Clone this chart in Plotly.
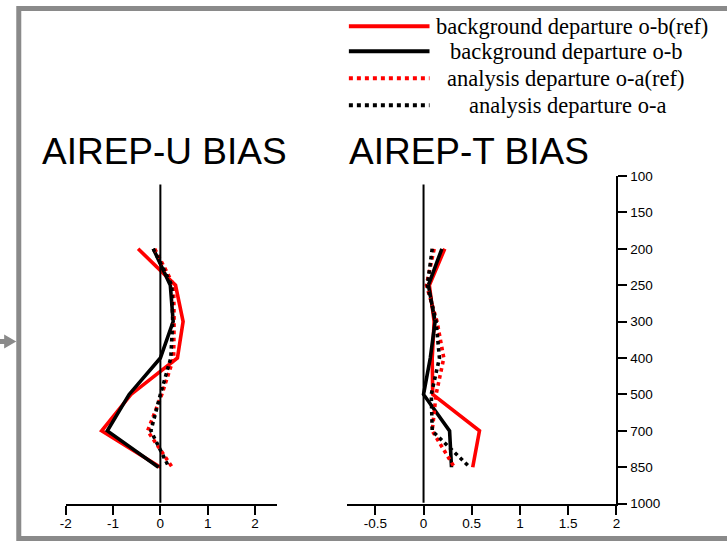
import plotly.graph_objects as go

W, H = 727, 549

# Pressure levels on the shared vertical axis (hPa), top to bottom
levels = ["100", "150", "200", "250", "300", "400", "500", "700", "850", "1000"]
data_levels = ["200", "250", "300", "400", "500", "700", "850"]

# AIREP-U bias (m/s)
u_ob_ref = [-0.47, 0.32, 0.48, 0.36, -0.62, -1.24, 0.0]
u_ob = [-0.15, 0.21, 0.27, 0.0, -0.66, -1.12, -0.04]
u_oa_ref = [-0.12, 0.28, 0.29, 0.28, 0.03, -0.27, 0.25]
u_oa = [-0.15, 0.24, 0.26, 0.22, 0.0, -0.2, 0.18]

# AIREP-T bias (K)
t_ob_ref = [0.22, 0.06, 0.11, 0.09, 0.095, 0.58, 0.51]
t_ob = [0.19, 0.05, 0.12, 0.07, 0.0, 0.27, 0.29]
t_oa_ref = [0.11, 0.03, 0.14, 0.21, 0.13, 0.09, 0.32]
t_oa = [0.09, 0.04, 0.13, 0.165, 0.08, 0.09, 0.48]

u_ticks = [-2, -1, 0, 1, 2]
t_ticks = [-0.5, 0, 0.5, 1, 1.5, 2]
t_ticktext = ["-0.5", "0", "0.5", "1", "1.5", "2"]

series_names = [
    "background departure o-b(ref)",
    "background departure o-b",
    "analysis departure o-a(ref)",
    "analysis departure o-a",
]
series_colors = ["#ff0000", "#000000", "#ff0000", "#000000"]
series_dash = ["solid", "solid", "dot", "dot"]

# page layout positions are given in window pixels; the page is shown
# inside an 8px body margin and scaled to the window, so map back here
PAD = 8
SX = W / (W + 2 * PAD)
SY = H / (H + 2 * PAD)


def fx(x):
    return x / SX - PAD


def fy(y):
    return y / SY - PAD


def px(x):
    return fx(x) / W


def py(y):
    return 1 - fy(y) / H


fig = go.Figure()

u_series = [u_ob_ref, u_ob, u_oa_ref, u_oa]
t_series = [t_ob_ref, t_ob, t_oa_ref, t_oa]
for vals, name, col, dash in zip(u_series, series_names, series_colors, series_dash):
    fig.add_trace(go.Scatter(x=vals, y=data_levels, mode="lines", name=name,
                             line=dict(color=col, width=3.6, dash=dash),
                             xaxis="x", yaxis="y", showlegend=False))
for vals, name, col, dash in zip(t_series, series_names, series_colors, series_dash):
    fig.add_trace(go.Scatter(x=vals, y=data_levels, mode="lines", name=name,
                             line=dict(color=col, width=3.6, dash=dash),
                             xaxis="x2", yaxis="y", showlegend=False))

tickfont = dict(family="Liberation Sans, Arial", size=13.5, color="#000")
axis_common = dict(showline=True, linecolor="#000", linewidth=2, ticks="outside",
                   ticklen=9, tickwidth=2, tickcolor="#000", showgrid=False,
                   zeroline=False, tickfont=tickfont)

shapes = []
# zero reference lines for both panels
for xr in ["x", "x2"]:
    shapes.append(dict(type="line", xref=xr, yref="paper", x0=0, x1=0,
                       y0=py(503), y1=py(185), line=dict(color="#000", width=2)))

# legend keys
legend_rows = [27, 52, 79, 106]
for yy, col, dash in zip(legend_rows, series_colors, series_dash):
    shapes.append(dict(type="line", xref="paper", yref="paper",
                       x0=px(348), x1=px(428), y0=py(yy), y1=py(yy),
                       line=dict(color=col, width=4, dash=dash)))

# outer frame (top and bottom edges kept just inside the drawing area)
shapes.append(dict(type="rect", xref="paper", yref="paper",
                   x0=px(20.5), x1=1.05, y0=2.5 / H, y1=1 - 1.5 / H,
                   line=dict(color="#8a8a8a", width=5), fillcolor="rgba(0,0,0,0)"))

# pointer arrow on the left edge
pts = [(0, 339.5), (6, 339.5), (6, 335), (18, 342), (6, 349), (6, 344.5), (0, 344.5)]
path = "M " + " L ".join(f"{px(a):.5f} {py(b):.5f}" for a, b in pts) + " Z"
shapes.append(dict(type="path", xref="paper", yref="paper", path=path,
                   fillcolor="#8a8a8a", line=dict(width=0)))

annotations = []
title_font = dict(family="Liberation Sans, Arial", size=37, color="#000")
annotations.append(dict(text="AIREP-U BIAS", x=px(165), y=py(152), xref="paper",
                        yref="paper", showarrow=False, font=title_font,
                        xanchor="center", yanchor="middle"))
annotations.append(dict(text="AIREP-T BIAS", x=px(467), y=py(152), xref="paper",
                        yref="paper", showarrow=False, font=title_font,
                        xanchor="center", yanchor="middle"))
legend_font = dict(family="Liberation Serif, Times New Roman", size=22.5, color="#000")
legend_cx = [569, 563, 563, 565]
for yy, cx, name in zip(legend_rows, legend_cx, series_names):
    annotations.append(dict(text=name, x=px(cx), y=py(yy), xref="paper", yref="paper",
                            showarrow=False, font=legend_font,
                            xanchor="center", yanchor="middle"))

fig.update_layout(
    width=W, height=H,
    margin=dict(l=0, r=0, t=0, b=0),
    paper_bgcolor="white", plot_bgcolor="rgba(0,0,0,0)",
    showlegend=False,
    xaxis=dict(domain=[px(67), px(277)], range=[-2.001, 2.47], anchor="y",
               tickvals=u_ticks, ticktext=[str(v) for v in u_ticks],
               ticklabelstandoff=-3, **axis_common),
    xaxis2=dict(domain=[px(346.5), px(613.5)], range=[-0.79, 2.001], anchor="y",
                tickvals=t_ticks, ticktext=t_ticktext,
                ticklabelstandoff=-3, **axis_common),
    yaxis=dict(domain=[py(504), py(176.5)], type="category", categoryorder="array",
               categoryarray=levels, range=[9.001, -0.001], anchor="x2", side="right",
               tickvals=levels, ticktext=levels, **axis_common),
    shapes=shapes,
    annotations=annotations,
)

fig.write_html("out.html")
